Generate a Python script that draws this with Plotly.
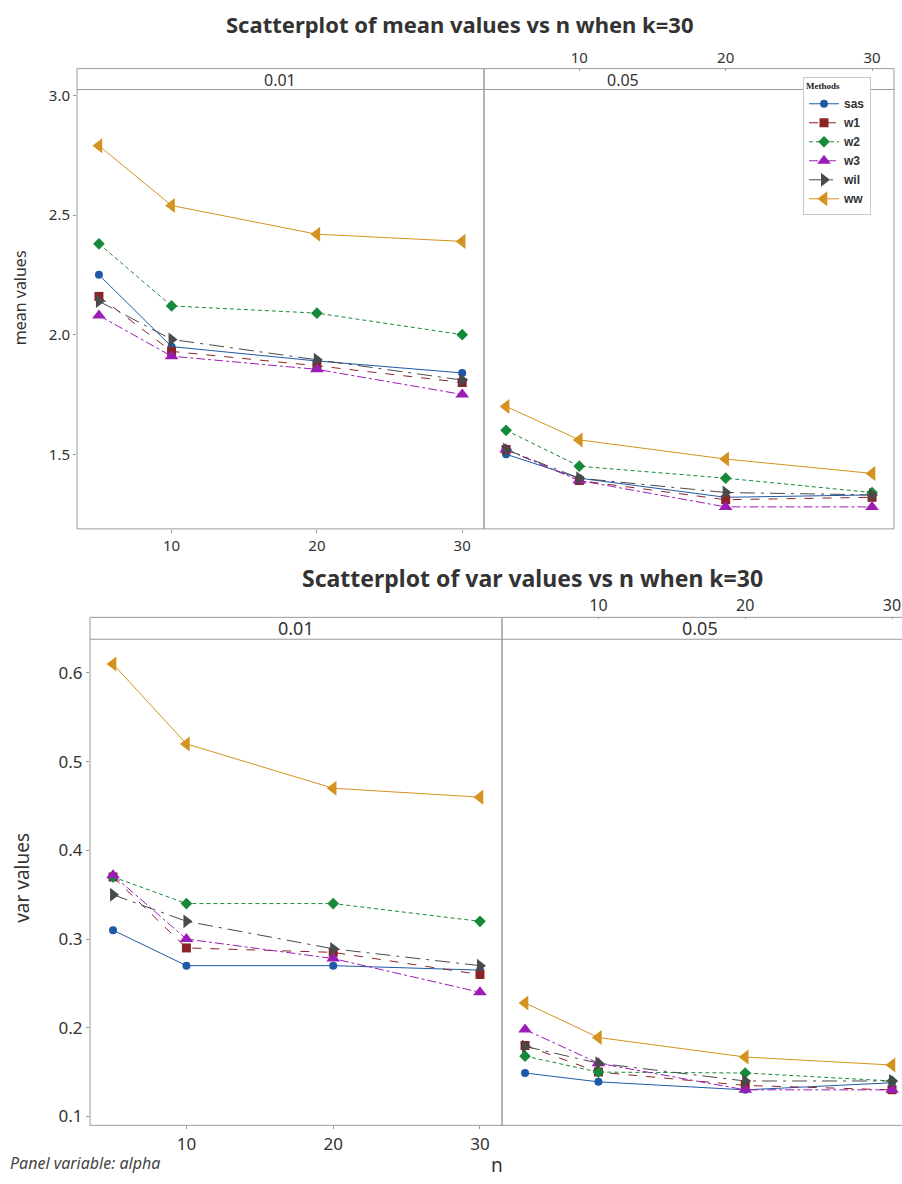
import plotly.graph_objects as go

W, H = 902, 1184

# ---------------- data ----------------
n_values = [5, 10, 20, 30]
methods = ["sas", "w1", "w2", "w3", "wil", "ww"]
tick_n = [10, 20, 30]

# mean values, alpha = 0.01
mean_001_sas = [2.25, 1.95, 1.89, 1.84]
mean_001_w1 = [2.16, 1.93, 1.87, 1.80]
mean_001_w2 = [2.38, 2.12, 2.09, 2.00]
mean_001_w3 = [2.08, 1.91, 1.855, 1.75]
mean_001_wil = [2.14, 1.98, 1.895, 1.81]
mean_001_ww = [2.79, 2.54, 2.42, 2.39]

# mean values, alpha = 0.05
mean_005_sas = [1.50, 1.40, 1.32, 1.33]
mean_005_w1 = [1.52, 1.39, 1.31, 1.32]
mean_005_w2 = [1.60, 1.45, 1.40, 1.34]
mean_005_w3 = [1.52, 1.39, 1.28, 1.28]
mean_005_wil = [1.52, 1.40, 1.34, 1.33]
mean_005_ww = [1.70, 1.56, 1.48, 1.42]

# var values, alpha = 0.01
var_001_sas = [0.31, 0.27, 0.27, 0.265]
var_001_w1 = [0.37, 0.29, 0.285, 0.26]
var_001_w2 = [0.37, 0.34, 0.34, 0.32]
var_001_w3 = [0.372, 0.30, 0.278, 0.24]
var_001_wil = [0.35, 0.32, 0.289, 0.27]
var_001_ww = [0.61, 0.52, 0.47, 0.46]

# var values, alpha = 0.05
var_005_sas = [0.149, 0.139, 0.13, 0.138]
var_005_w1 = [0.18, 0.15, 0.135, 0.13]
var_005_w2 = [0.168, 0.15, 0.149, 0.14]
var_005_w3 = [0.198, 0.16, 0.13, 0.13]
var_005_wil = [0.179, 0.16, 0.14, 0.14]
var_005_ww = [0.228, 0.189, 0.167, 0.158]

mean_ticks = [1.5, 2.0, 2.5, 3.0]
mean_ticktext = ["1.5", "2.0", "2.5", "3.0"]
var_ticks = [0.1, 0.2, 0.3, 0.4, 0.5, 0.6]
var_ticktext = ["0.1", "0.2", "0.3", "0.4", "0.5", "0.6"]

panel_labels = ["0.01", "0.05"]

# ---------------- styles ----------------
colors = {"sas": "#1F5AA6", "w1": "#8B2525", "w2": "#168A3A",
          "w3": "#9A1DB5", "wil": "#4A4A4A", "ww": "#D4921E"}
symbols = {"sas": "circle", "w1": "square", "w2": "diamond",
           "w3": "triangle-up", "wil": "triangle-right", "ww": "triangle-left"}
dashes = {"sas": "solid", "w1": "dash", "w2": "4px,3px",
          "w3": "dashdot", "wil": "longdashdot", "ww": "solid"}
msizes = {"sas": 8, "w1": 9, "w2": 9, "w3": 12, "wil": 12, "ww": 13}

panels = [
    ("x", "y", [mean_001_sas, mean_001_w1, mean_001_w2, mean_001_w3, mean_001_wil, mean_001_ww]),
    ("x2", "y2", [mean_005_sas, mean_005_w1, mean_005_w2, mean_005_w3, mean_005_wil, mean_005_ww]),
    ("x3", "y3", [var_001_sas, var_001_w1, var_001_w2, var_001_w3, var_001_wil, var_001_ww]),
    ("x4", "y4", [var_005_sas, var_005_w1, var_005_w2, var_005_w3, var_005_wil, var_005_ww]),
]


def fx(p):
    return p / W


def fy(p):
    return 1 - p / H


fig = go.Figure()
for pi, (xa, ya, series) in enumerate(panels):
    for m, vals in zip(methods, series):
        fig.add_trace(go.Scatter(
            x=n_values, y=vals, xaxis=xa, yaxis=ya, name=m,
            mode="lines+markers", legendgroup=m, showlegend=(pi == 0),
            line=dict(color=colors[m], width=1, dash=dashes[m]),
            marker=dict(color=colors[m], symbol=symbols[m], size=msizes[m]),
        ))

AX = "#9A9A9A"
TXT = "#333333"
FONT = "Noto Sans"

common_x = dict(tickvals=tick_n, showgrid=False, zeroline=False, showline=False,
                ticks="outside", ticklen=3, tickcolor=AX)
common_y = dict(showgrid=False, zeroline=False, showline=False,
                ticks="outside", ticklen=3, tickcolor=AX)

fig.update_layout(
    width=W, height=H, margin=dict(l=0, r=0, t=0, b=0),
    paper_bgcolor="white", plot_bgcolor="white",
    font=dict(family=FONT, color=TXT),
    xaxis=dict(common_x, domain=[fx(77), fx(484)], range=[3.49, 31.5], anchor="y",
               tickfont=dict(size=15, color=TXT)),
    yaxis=dict(common_y, domain=[fy(527), fy(85)], range=[1.188, 3.025], anchor="x",
               tickvals=mean_ticks, ticktext=mean_ticktext, tickfont=dict(size=15, color=TXT)),
    xaxis2=dict(common_x, domain=[fx(484), fx(894)], range=[3.49, 31.5], anchor="free",
                side="top", position=fy(66), ticklen=2, tickfont=dict(size=15, color=TXT)),
    yaxis2=dict(common_y, domain=[fy(527), fy(85)], range=[1.188, 3.025], anchor="x2",
                showticklabels=False, ticks=""),
    xaxis3=dict(common_x, domain=[fx(90), fx(502)], range=[3.43, 31.5], anchor="y3",
                tickfont=dict(size=17, color=TXT)),
    yaxis3=dict(common_y, domain=[fy(1127), fy(638)], range=[0.09, 0.638], anchor="x3",
                tickvals=var_ticks, ticktext=var_ticktext, tickfont=dict(size=17, color=TXT)),
    xaxis4=dict(common_x, domain=[fx(502), 1.0], range=[3.43, 30.68], anchor="free",
                side="top", position=fy(618), ticklen=2, tickfont=dict(size=16, color=TXT)),
    yaxis4=dict(common_y, domain=[fy(1127), fy(638)], range=[0.09, 0.638], anchor="x4",
                showticklabels=False, ticks=""),
    legend=dict(x=fx(803), y=fy(72), xanchor="left", yanchor="top",
                bgcolor="white", bordercolor="#C8C8C8", borderwidth=1,
                font=dict(family="Liberation Sans", size=12, color=TXT, weight="bold"),
                title=dict(text="<b>Methods</b>",
                           font=dict(family="Liberation Serif", size=9, color="#222")),
                tracegroupgap=0, itemwidth=30),
    showlegend=True,
)

shapes = []


def panel_box(x0, x1, top, strip_bottom, bottom):
    shapes.append(dict(type="rect", xref="paper", yref="paper",
                       x0=fx(x0), x1=fx(x1), y0=fy(bottom), y1=fy(top),
                       line=dict(color=AX, width=1), layer="below"))
    shapes.append(dict(type="line", xref="paper", yref="paper",
                       x0=fx(x0), x1=fx(x1), y0=fy(strip_bottom), y1=fy(strip_bottom),
                       line=dict(color=AX, width=1), layer="below"))


panel_box(77, 484, 64, 85, 527)
panel_box(484, 894, 64, 85, 527)
panel_box(90, 502, 616, 638, 1127)
panel_box(502, 930, 616, 638, 1127)
fig.update_layout(shapes=shapes)

ann = []


def text(x, y, t, size, **kw):
    d = dict(xref="paper", yref="paper", x=fx(x), y=fy(y), text=t, showarrow=False,
             xanchor="center", yanchor="middle",
             font=dict(size=size, color=kw.pop("color", TXT), family=kw.pop("family", FONT)))
    d.update(kw)
    ann.append(d)


text(459, 19, "<b>Scatterplot of mean values vs n when k=30</b>", 22)
text(532, 576, "<b>Scatterplot of var values vs n when k=30</b>", 23)
text(280, 75, panel_labels[0], 16)
text(623, 75, panel_labels[1], 16)
text(296, 627, panel_labels[0], 18)
text(700, 627, panel_labels[1], 18)
text(20, 295, "mean values", 16, textangle=-90)
text(22, 878, "var values", 19, textangle=-90)
text(497, 1167, "n", 19)
text(8, 1165, "<i>Panel variable: alpha</i>", 16, xanchor="left", color="#444444")
fig.update_layout(annotations=ann)

fig.write_html("out.html")
